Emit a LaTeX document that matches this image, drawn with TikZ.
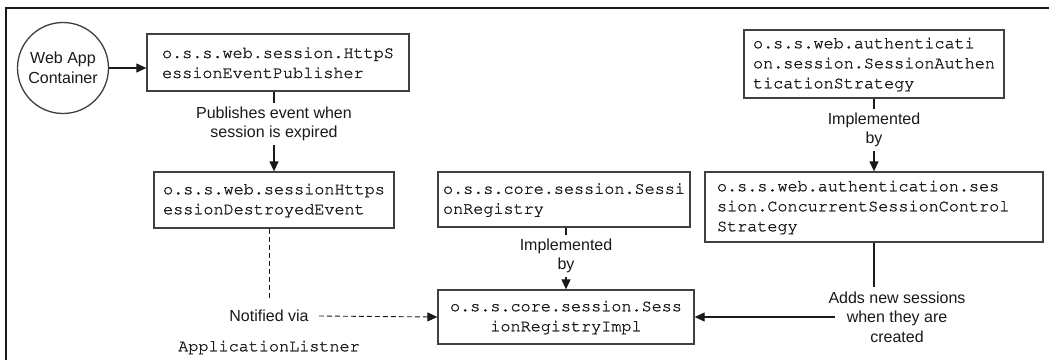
\documentclass[tikz,border=0pt]{standalone}
\usepackage{fontspec}
\newfontfamily\sansf{Liberation Sans}
\newcommand\thickon{\special{pdf:literal direct 2 Tr 0.22 w}}
\newcommand\thickoff{\special{pdf:literal direct 0 Tr}}
\newcommand\courf{\fontencoding{OT1}\fontfamily{pcr}\fontseries{m}\fontshape{n}\fontsize{16.8}{20}\selectfont}
\usetikzlibrary{arrows.meta}
\definecolor{boxcol}{HTML}{404040}
\definecolor{linecol}{HTML}{1A1A1A}
\tikzset{
  codebox/.style={draw=boxcol, line width=1.3pt, font=\courf, align=left, inner sep=0pt, text=linecol,
    execute at begin node=\thickon, execute at end node=\thickoff},
  lbl/.style={font=\sansf\fontsize{16}{19.5}\selectfont, align=center, inner sep=4pt, text=linecol},
  conn/.style={draw=linecol, line width=1.1pt},
  arr/.style={conn, -{Triangle[length=10pt,width=9pt]}},
  dsh/.style={conn, line width=0.9pt, dash pattern=on 5pt off 3pt},
}
\begin{document}
\begin{tikzpicture}[x=1pt,y=-1pt]
\useasboundingbox (0,0) rectangle (1049,360);
\fill[white] (0,0) rectangle (1049,360);
% frame
\draw[line width=2pt, draw=linecol] (6,360) -- (6,8) -- (1049,8);

% nodes
\node[circle, draw=boxcol, line width=1.3pt, minimum size=91pt, inner sep=0pt,
      font=\sansf\fontsize{16}{20}\selectfont, align=center, text=linecol] (web) at (63,68) {Web App\\Container};
\node[codebox, minimum width=262pt, minimum height=57pt] (pub) at (278,62.5) {o.s.s.web.session.HttpS\\essionEventPublisher};
\node[lbl] (publbl) at (274,124) {Publishes event when\\session is expired};
\node[codebox, minimum width=240pt, minimum height=56pt] (dest) at (274,200) {o.s.s.web.sessionHttps\\essionDestroyedEvent};
\node[codebox, minimum width=252pt, minimum height=55pt] (reg) at (564,199.5) {o.s.s.core.session.Sessi\\onRegistry};
\node[lbl] (impla) at (566,256) {Implemented\\by};
\node[codebox, align=center, minimum width=256pt, minimum height=54pt] (regimpl) at (566,317) {o.s.s.core.session.Sess\\ionRegistryImpl};
\node[codebox, minimum width=260pt, minimum height=68pt] (auth) at (874,64) {o.s.s.web.authenticati\\on.session.SessionAuthen\\ticationStrategy};
\node[lbl] (implb) at (874,130) {Implemented\\by};
\node[codebox, text width=314pt, inner xsep=12pt, minimum height=70pt] (conc) at (874,207) {o.s.s.web.authentication.ses\\sion.ConcurrentSessionControl\\Strategy};
\node[lbl] (adds) at (897,317) {Adds new sessions\\when they are\\created};
\node[lbl, inner sep=10pt] (notif) at (269,316) {Notified via};
\node[font=\courf, text=linecol, inner sep=2pt,
      execute at begin node=\thickon, execute at end node=\thickoff] (appl) at (269,347) {ApplicationListner};

% connectors
\draw[arr] (web.east) -- (web.east -| pub.west);
\draw[conn] (pub.south -| publbl.north) -- (publbl.north);
\draw[arr] (publbl.south) -- (publbl.south |- dest.north);
\draw[dsh] (notif.north |- dest.south) -- (notif.north);
\draw[dsh, -{Triangle[length=10pt,width=9pt]}] (notif.east) -- (regimpl.west);
\draw[conn] (reg.south -| impla.north) -- (impla.north);
\draw[arr] (impla.south) -- (impla.south |- regimpl.north);
\draw[conn] (auth.south -| implb.north) -- (implb.north);
\draw[arr] (implb.south) -- (implb.south |- conc.north);
\draw[conn] (conc.south) -- (conc.south |- adds.north);
\draw[arr] ([xshift=11pt]adds.west) -- (regimpl.east);
\end{tikzpicture}
\end{document}
